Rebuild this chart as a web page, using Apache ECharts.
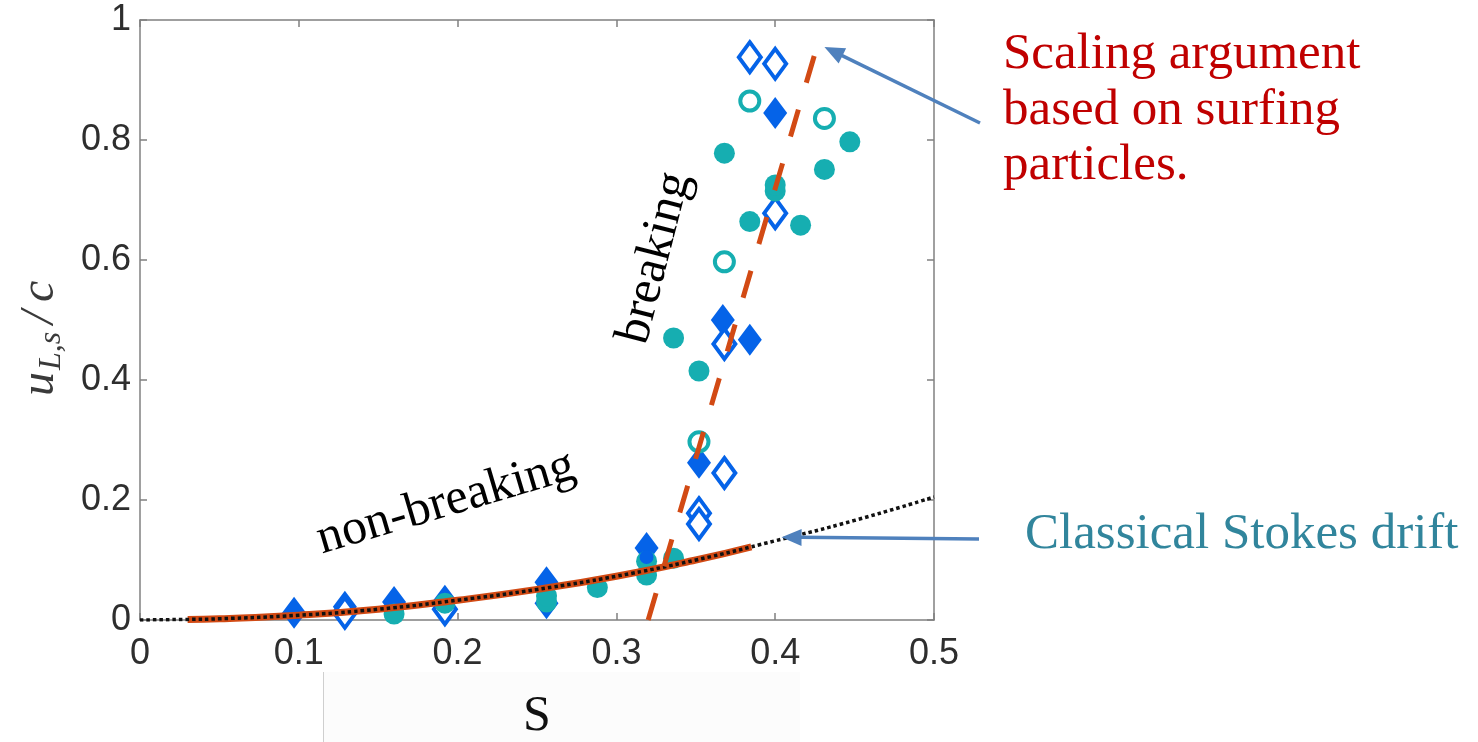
<!DOCTYPE html>
<html>
<head>
<meta charset="utf-8">
<script src="https://cdn.jsdelivr.net/npm/echarts@6/dist/echarts.min.js"></script>
<style>
  html, body { margin: 0; padding: 0; background: #ffffff; }
  #chart { width: 1478px; height: 742px; }
</style>
</head>
<body>
<div id="chart"></div>
<script>
// Axis ticks and their labels
const sTicks = [0, 0.1, 0.2, 0.3, 0.4, 0.5];
const sTickLabels = ['0', '0.1', '0.2', '0.3', '0.4', '0.5'];
const uTicks = [0, 0.2, 0.4, 0.6, 0.8, 1];
const uTickLabels = ['0', '0.2', '0.4', '0.6', '0.8', '1'];

// Measurements: [S, u_{L,s}/c]
const tealFilled = [
  [0.160, 0.010], [0.192, 0.028], [0.256, 0.030], [0.256, 0.040],
  [0.288, 0.054], [0.319, 0.075], [0.319, 0.098], [0.336, 0.103],
  [0.336, 0.470], [0.352, 0.415], [0.368, 0.778], [0.384, 0.664],
  [0.400, 0.715], [0.400, 0.725], [0.416, 0.658], [0.431, 0.751],
  [0.447, 0.797]
];
const tealOpen = [
  [0.352, 0.297], [0.368, 0.597], [0.384, 0.865], [0.431, 0.836]
];
const blueFilled = [
  [0.097, 0.012], [0.129, 0.022], [0.160, 0.030], [0.192, 0.032],
  [0.256, 0.063], [0.256, 0.028], [0.319, 0.120], [0.352, 0.262],
  [0.367, 0.500], [0.384, 0.467], [0.400, 0.845]
];
const blueOpen = [
  [0.129, 0.012], [0.192, 0.018], [0.352, 0.178], [0.352, 0.160],
  [0.368, 0.245], [0.368, 0.460], [0.400, 0.678], [0.384, 0.938],
  [0.400, 0.927]
];
const blueDot = [[0.319, 0.105]];

// Classical Stokes drift curve (solid part and dotted full range)
const stokesSolid = [
  [0.030, 0.001], [0.050, 0.002], [0.100, 0.008], [0.150, 0.018],
  [0.200, 0.033], [0.250, 0.051], [0.300, 0.073], [0.350, 0.100],
  [0.385, 0.122]
];
const stokesDotted = [
  [0.000, 0.000], [0.030, 0.001], [0.050, 0.002], [0.100, 0.008],
  [0.150, 0.018], [0.200, 0.033], [0.250, 0.051], [0.300, 0.073],
  [0.350, 0.100], [0.400, 0.132], [0.450, 0.166], [0.500, 0.205]
];

// Surfing-particle scaling line
const scalingLine = [[0.320, 0.000], [0.429, 0.980]];

// Arrow tips in data space
const surfArrowTip = [0.431, 0.955];
const stokesArrowTip = [0.404, 0.138];

const TEAL = '#16aeb1';
const BLUE = '#0563e8';
const ORANGE = '#d24a14';
const FRAME = '#808080';
const ARROW = '#4f81bd';

const chart = echarts.init(document.getElementById('chart'), null, { renderer: 'canvas' });

const tickFmt = (ticks, labels) => (v) => {
  const i = ticks.findIndex(t => Math.abs(t - v) < 1e-9);
  return i >= 0 ? labels[i] : '';
};

const frameAxis = {
  axisLine: { show: true, onZero: false, lineStyle: { color: FRAME, width: 1.5 } },
  axisTick: { show: true, inside: true, length: 7, lineStyle: { color: FRAME, width: 1.5 } },
  splitLine: { show: false }
};

const option = {
  backgroundColor: '#ffffff',
  animation: false,
  grid: { left: 140, top: 20, right: 544, bottom: 122, containLabel: false },
  xAxis: [
    Object.assign({
      type: 'value', min: 0, max: 0.5, interval: 0.1, position: 'bottom',
      axisLabel: {
        show: true, margin: 16, fontSize: 36, color: '#2e2e2e',
        fontFamily: 'Liberation Sans, Arial, sans-serif',
        formatter: tickFmt(sTicks, sTickLabels)
      }
    }, frameAxis),
    Object.assign({
      type: 'value', min: 0, max: 0.5, interval: 0.1, position: 'top',
      axisLabel: { show: false }
    }, frameAxis)
  ],
  yAxis: [
    Object.assign({
      type: 'value', min: 0, max: 1, interval: 0.2, position: 'left',
      axisLabel: {
        show: true, margin: 9, fontSize: 36, color: '#2e2e2e',
        fontFamily: 'Liberation Sans, Arial, sans-serif',
        formatter: tickFmt(uTicks, uTickLabels)
      }
    }, frameAxis),
    Object.assign({
      type: 'value', min: 0, max: 1, interval: 0.2, position: 'right',
      axisLabel: { show: false }
    }, frameAxis)
  ],
  series: [
    {
      name: 'blueFilled', type: 'scatter', data: blueFilled, z: 2,
      symbol: 'diamond', symbolSize: [24, 32],
      itemStyle: { color: BLUE, opacity: 1 }, silent: true
    },
    {
      name: 'blueOpen', type: 'scatter', data: blueOpen, z: 3,
      symbol: 'diamond', symbolSize: [22, 30],
      itemStyle: { color: '#ffffff', borderColor: BLUE, borderWidth: 4, opacity: 1 }, silent: true
    },
    {
      name: 'tealFilled', type: 'scatter', data: tealFilled, z: 4,
      symbol: 'circle', symbolSize: 21,
      itemStyle: { color: TEAL, opacity: 1 }, silent: true
    },
    {
      name: 'tealOpen', type: 'scatter', data: tealOpen, z: 4,
      symbol: 'circle', symbolSize: 19,
      itemStyle: { color: '#ffffff', borderColor: TEAL, borderWidth: 4, opacity: 1 }, silent: true
    },
    {
      name: 'blueDot', type: 'scatter', data: blueDot, z: 5,
      symbol: 'circle', symbolSize: 14,
      itemStyle: { color: BLUE, opacity: 1 }, silent: true
    },
    {
      name: 'stokesSolid', type: 'line', data: stokesSolid, z: 6,
      smooth: true, showSymbol: false, symbol: 'none',
      lineStyle: { color: ORANGE, width: 7 }, silent: true
    },
    {
      name: 'stokesDotted', type: 'line', data: stokesDotted, z: 7,
      smooth: true, showSymbol: false, symbol: 'none',
      lineStyle: { color: '#111111', width: 3.5, type: [3.5, 3] }, silent: true
    },
    {
      name: 'scaling', type: 'line', data: scalingLine, z: 8,
      showSymbol: false, symbol: 'none',
      lineStyle: { color: ORANGE, width: 5, type: [28, 28] }, silent: true
    }
  ]
};

chart.setOption(option);

function arrowParts(tail, tip, color) {
  const dx = tip[0] - tail[0], dy = tip[1] - tail[1];
  const len = Math.hypot(dx, dy);
  const ux = dx / len, uy = dy / len;
  const hl = 20, hw = 8.5;
  const base = [tip[0] - ux * hl, tip[1] - uy * hl];
  const left = [base[0] - uy * hw, base[1] + ux * hw];
  const right = [base[0] + uy * hw, base[1] - ux * hw];
  return [
    { type: 'line', silent: true, z: 20,
      shape: { x1: tail[0], y1: tail[1], x2: base[0] + ux * 2, y2: base[1] + uy * 2 },
      style: { stroke: color, lineWidth: 3.5 } },
    { type: 'polygon', silent: true, z: 20,
      shape: { points: [tip, left, right] },
      style: { fill: color } }
  ];
}

const px = (p) => chart.convertToPixel({ gridIndex: 0 }, p);
const SERIF = 'Liberation Serif, Times New Roman, serif';

const graphics = [
  // faint strip under the axis title
  { type: 'rect', silent: true, z: 0,
    shape: { x: 324, y: 672, width: 476, height: 70 },
    style: { fill: '#fcfcfc' } },
  { type: 'line', silent: true, z: 1,
    shape: { x1: 323.5, y1: 672, x2: 323.5, y2: 742 },
    style: { stroke: '#cfcfcf', lineWidth: 1 } },
  // axis title
  { type: 'text', silent: true, z: 10, x: 537, y: 717,
    style: { text: 'S', fontSize: 50, fontFamily: SERIF, fill: '#111111',
             align: 'center', verticalAlign: 'middle' } },
  // y-axis title u_{L,s}/c, rotated
  { type: 'group', silent: true, x: 40, y: 312, rotation: Math.PI / 2, children: [
    { type: 'text', x: -84, y: 0,
      style: { text: 'u', fontSize: 48, fontStyle: 'italic', fontFamily: SERIF, fill: '#3a3a3a',
               align: 'left', verticalAlign: 'middle' } },
    { type: 'text', x: -58, y: 12,
      style: { text: 'L,s', fontSize: 32, fontStyle: 'italic', fontFamily: SERIF, fill: '#3a3a3a',
               align: 'left', verticalAlign: 'middle' } },
    { type: 'text', x: -12, y: 0,
      style: { text: '/', fontSize: 48, fontStyle: 'italic', fontFamily: SERIF, fill: '#3a3a3a',
               align: 'left', verticalAlign: 'middle' } },
    { type: 'text', x: 10, y: 0,
      style: { text: 'c', fontSize: 48, fontStyle: 'italic', fontFamily: SERIF, fill: '#3a3a3a',
               align: 'left', verticalAlign: 'middle' } }
  ] },
  // regime labels
  { type: 'text', silent: true, z: 10, x: 655, y: 258, rotation: 75.5 * Math.PI / 180,
    style: { text: 'breaking', fontSize: 50, fontFamily: SERIF, fill: '#000000',
             align: 'center', verticalAlign: 'middle' } },
  { type: 'text', silent: true, z: 10, x: 446, y: 503, rotation: 16.5 * Math.PI / 180,
    style: { text: 'non-breaking', fontSize: 50, fontFamily: SERIF, fill: '#000000',
             align: 'center', verticalAlign: 'middle' } },
  // annotations
  { type: 'text', silent: true, z: 10, x: 1003, y: 55,
    style: { text: 'Scaling argument', fontSize: 51, fontFamily: SERIF, fill: '#c00000',
             align: 'left', verticalAlign: 'middle' } },
  { type: 'text', silent: true, z: 10, x: 1003, y: 111,
    style: { text: 'based on surfing', fontSize: 51, fontFamily: SERIF, fill: '#c00000',
             align: 'left', verticalAlign: 'middle' } },
  { type: 'text', silent: true, z: 10, x: 1003, y: 166,
    style: { text: 'particles.', fontSize: 51, fontFamily: SERIF, fill: '#c00000',
             align: 'left', verticalAlign: 'middle' } },
  { type: 'text', silent: true, z: 10, x: 1025, y: 535,
    style: { text: 'Classical Stokes drift', fontSize: 51, fontFamily: SERIF, fill: '#31859c',
             align: 'left', verticalAlign: 'middle' } }
].concat(
  arrowParts([980, 123], px(surfArrowTip), ARROW),
  arrowParts([979, 539], px(stokesArrowTip), ARROW)
);

chart.setOption({ graphic: graphics });
</script>
</body>
</html>
